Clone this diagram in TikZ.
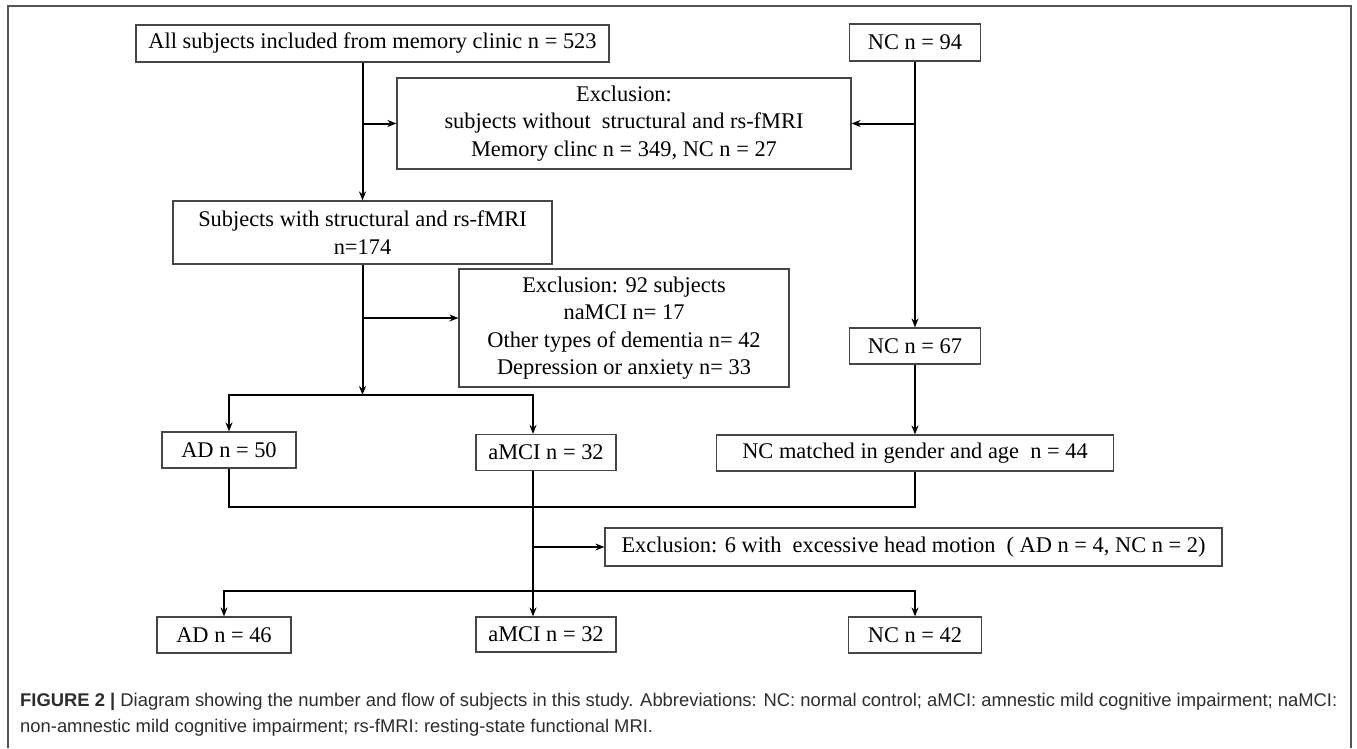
\documentclass[tikz,border=0pt]{standalone}
\usepackage{fontspec}
\setmainfont{Liberation Serif}
\newfontfamily\capfont{Liberation Sans}
\usetikzlibrary{arrows.meta,positioning,calc}
\definecolor{frameGray}{RGB}{85,85,85}
\definecolor{boxGray}{RGB}{70,70,70}
\definecolor{capGray}{RGB}{45,45,45}

\begin{document}
\begin{tikzpicture}[x=1pt, y=-1pt,
    box/.style={rectangle, draw=boxGray, line width=1.2pt, inner sep=0pt,
                align=center, font=\fontsize{22.4}{27.5}\selectfont},
    line/.style={black, line width=2pt},
    arr/.style={-{Stealth[length=9pt,width=7pt]}, black, line width=2pt}
  ]
  \useasboundingbox (0,0) rectangle (1357,748);
  \draw[frameGray, line width=1.5pt] (8,748) -- (8,6) -- (1351,6) -- (1351,748);

  \node[box, minimum width=473pt, minimum height=37pt] (all) at (372.5,43.5)
    {All subjects included from memory clinic n = 523};
  \node[box, minimum width=131pt, minimum height=37pt] (nc94) at (915,42.5) {NC n = 94};
  \node[box, minimum width=454pt, minimum height=91pt] (excl1) at (624,123.5)
    {Exclusion:\\subjects without\ \ structural and rs-fMRI\\Memory clinc n = 349, NC n = 27};
  \node[box, minimum width=379pt, minimum height=63pt] (sub) at (362.5,232.5)
    {Subjects with structural and rs-fMRI\\n=174};
  \node[box, minimum width=330pt, minimum height=118pt] (excl2) at (624,328)
    {Exclusion: 92 subjects\\naMCI n= 17\\Other types of dementia n= 42\\Depression or anxiety n= 33};
  \node[box, minimum width=131pt, minimum height=36pt] (nc67) at (915,346) {NC n = 67};

  \node[box, minimum width=134pt, minimum height=36pt] (ad50) at (229,450) {AD n = 50};
  \node[box, minimum width=140pt, minimum height=36pt] (amci1) at (546,452.5) {aMCI n = 32};
  \node[box, minimum width=397pt, minimum height=36pt] (ncm) at (915,453)
    {NC matched in gender and age\ \ n = 44};
  \node[box, minimum width=617pt, minimum height=38pt] (excl3) at (913.5,547)
    {Exclusion: 6 with\ \ excessive head motion\ \ ( AD n = 4, NC n = 2)};

  \node[box, minimum width=134pt, minimum height=36pt] (ad46) at (224,635) {AD n = 46};
  \node[box, minimum width=140pt, minimum height=35pt] (amci2) at (546,634.5) {aMCI n = 32};
  \node[box, minimum width=133pt, minimum height=36pt] (nc42) at (915,635) {NC n = 42};

  \coordinate (amx) at (533,0);
  \coordinate (b1) at (sub.south |- 0,395);
  \coordinate (m1) at (ncm.south |- 0,507);
  \coordinate (b2) at (amx |- 0,591);

  \draw[arr] (sub.north |- all.south) -- (sub.north);
  \draw[arr] (sub.north |- excl1.west) -- (excl1.west);
  \draw[arr] (nc94.south) -- (nc67.north);
  \draw[arr] (nc94.south |- excl1.east) -- (excl1.east);
  \draw[arr] (sub.south) -- (b1);
  \draw[arr] (sub.south |- 0,318) -- (excl2.west |- 0,318);
  \draw[arr] (b1) -| (ad50.north);
  \draw[arr] (b1) -| (amci1.north -| amx);
  \draw[arr] (nc67.south) -- (ncm.north);

  \draw[line] (ad50.south) |- (m1) -- (ncm.south);
  \draw[arr] (amci1.south -| amx) -- (amci2.north -| amx);
  \draw[arr] (amx |- excl3.west) -- (excl3.west);
  \draw[arr] (b2) -| (ad46.north);
  \draw[arr] (b2) -| (nc42.north);

  \node[anchor=west, inner sep=0pt, align=left, text=capGray,
        font=\capfont\fontsize{18.4}{26}\selectfont] (cap) at (20,715)
    {{\bfseries FIGURE 2 |} Diagram showing the number and flow of subjects in this study. Abbreviations: NC: normal control; aMCI: amnestic mild cognitive impairment; naMCI:\\
     non-amnestic mild cognitive impairment; rs-fMRI: resting-state functional MRI.};
\end{tikzpicture}
\end{document}
